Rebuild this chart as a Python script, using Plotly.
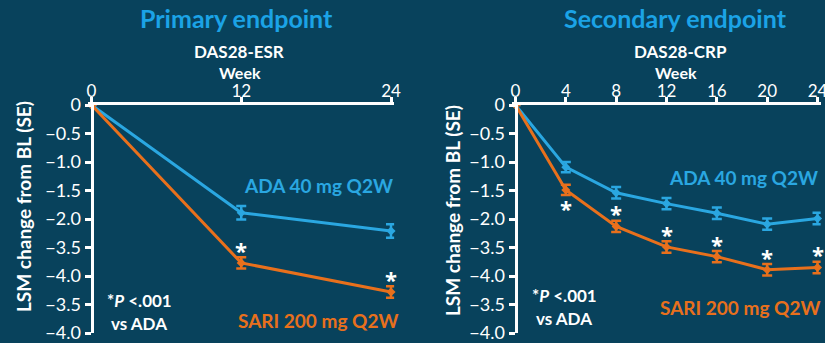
import plotly.graph_objects as go

# ---- data ----
weeks_esr = [0, 12, 24]
ada_esr = [0, -1.89, -2.21]
ada_esr_se = [0, 0.12, 0.12]
sari_esr = [0, -2.77, -3.28]
sari_esr_se = [0, 0.10, 0.10]
sig_esr = [False, True, True]

weeks_crp = [0, 4, 8, 12, 16, 20, 24]
ada_crp = [0, -1.09, -1.54, -1.73, -1.90, -2.09, -1.99]
ada_crp_se = [0, 0.09, 0.10, 0.10, 0.10, 0.10, 0.10]
sari_crp = [0, -1.49, -2.13, -2.49, -2.66, -2.89, -2.85]
sari_crp_se = [0, 0.09, 0.10, 0.10, 0.10, 0.10, 0.10]
sig_crp = [False, True, True, True, True, True, True]
star_below_crp = [False, True, False, False, False, False, False]

y_tickvals = [0, -0.5, -1.0, -1.5, -2.0, -2.5, -3.0, -3.5, -4.0]
y_ticktext = ["0", "\u22120.5", "\u22121.0", "\u22121.5", "\u22122.0", "\u22123.5", "\u22124.0", "\u22123.5", "\u22124.0"]
x_ticks_esr = [0, 12, 24]
x_ticks_crp = [0, 4, 8, 12, 16, 20, 24]

BG = "#08425C"
BLUE = "#2AA7E1"
ORANGE = "#E8701C"
TITLE_BLUE = "#1BA3E6"
WHITE = "#FFFFFF"
FONT = "Lato"

fig = go.Figure()

def add_series(x, y, se, color, xa, ya):
    fig.add_trace(go.Scatter(
        x=x, y=y, mode="lines+markers", xaxis=xa, yaxis=ya,
        line=dict(color=color, width=3),
        marker=dict(symbol="diamond", size=7, color=color),
        error_y=dict(type="data", array=se, visible=True, color=color, thickness=2.5, width=5),
        showlegend=False, hoverinfo="skip", cliponaxis=False,
    ))

add_series(weeks_esr, ada_esr, ada_esr_se, BLUE, "x", "y")
add_series(weeks_esr, sari_esr, sari_esr_se, ORANGE, "x", "y")
add_series(weeks_crp, ada_crp, ada_crp_se, BLUE, "x2", "y2")
add_series(weeks_crp, sari_crp, sari_crp_se, ORANGE, "x2", "y2")

annotations = []
STAR_FONT = dict(family="Open Sans", size=22, color=WHITE)
# asterisks
for w, v, s in zip(weeks_esr, sari_esr, sig_esr):
    if s:
        annotations.append(dict(x=w, y=v, xref="x", yref="y", text="<b>*</b>", showarrow=False,
                                yshift=13, font=STAR_FONT))
for w, v, s, b in zip(weeks_crp, sari_crp, sig_crp, star_below_crp):
    if s:
        annotations.append(dict(x=w, y=v, xref="x2", yref="y2", text="<b>*</b>", showarrow=False,
                                yshift=(-18 if b else 13), font=STAR_FONT))

def paper_txt(x, y, text, size, color, bold=True, textangle=0):
    annotations.append(dict(x=x / 825, y=1 - y / 343, xref="paper", yref="paper",
                            text=("<b>%s</b>" % text) if bold else text, showarrow=False,
                            xanchor="center", yanchor="middle", textangle=textangle,
                            font=dict(family=FONT, size=size, color=color)))

paper_txt(236, 18, "Primary endpoint", 25, TITLE_BLUE)
paper_txt(675, 18, "Secondary endpoint", 25, TITLE_BLUE)
paper_txt(239, 51, "DAS28-ESR", 17, WHITE)
paper_txt(680, 51, "DAS28-CRP", 17, WHITE)
paper_txt(240, 72, "Week", 16, WHITE)
paper_txt(676, 72, "Week", 16, WHITE)
paper_txt(318, 185, "ADA 40 mg Q2W", 19, BLUE)
paper_txt(318, 320, "SARI 200 mg Q2W", 19, ORANGE)
paper_txt(743, 177, "ADA 40 mg Q2W", 19, BLUE)
paper_txt(740, 307, "SARI 200 mg Q2W", 19, ORANGE)
paper_txt(139, 300, "*<i>P</i> <.001", 17, WHITE)
paper_txt(139, 323, "vs ADA", 17, WHITE)
paper_txt(564, 295, "*<i>P</i> <.001", 17, WHITE)
paper_txt(564, 318, "vs ADA", 17, WHITE)
paper_txt(23, 207, "LSM change from BL (SE)", 19, WHITE, textangle=-90)
paper_txt(452, 211, "LSM change from BL (SE)", 19, WHITE, textangle=-90)

PAD = 0.25  # small range padding so end error-bar caps are not clipped
xcommon = dict(side="top", showgrid=False, zeroline=False, showline=True, linecolor=WHITE,
               linewidth=3, ticks="outside", ticklen=5, tickwidth=3, tickcolor=WHITE,
               tickfont=dict(family=FONT, size=17, color=WHITE), range=[-PAD, 24 + PAD],
               fixedrange=True, automargin=False, ticklabelstandoff=-7,
               ticklabeloverflow="allow")
ycommon = dict(showgrid=False, zeroline=False, showline=True, linecolor=WHITE, linewidth=3,
               ticks="outside", ticklen=6, tickwidth=3, tickcolor=WHITE,
               tickvals=y_tickvals, ticktext=y_ticktext, range=[-4.0, 0],
               tickfont=dict(family=FONT, size=18, color=WHITE), fixedrange=True,
               automargin=False, ticklabeloverflow="allow")

def xdom(x0px, x24px):
    ppu = (x24px - x0px) / 24.0
    return [(x0px - PAD * ppu) / 825, (x24px + PAD * ppu) / 825]

ydom = [1 - 333 / 343, 1 - 105 / 343]
fig.update_layout(
    width=825, height=343,
    margin=dict(l=0, r=0, t=0, b=0),
    paper_bgcolor=BG, plot_bgcolor=BG,
    xaxis=dict(xcommon, domain=xdom(91.5, 391), anchor="y", tickvals=x_ticks_esr),
    yaxis=dict(ycommon, domain=ydom, anchor="free", position=91.5 / 825),
    xaxis2=dict(xcommon, domain=xdom(515.5, 817.5), anchor="y2", tickvals=x_ticks_crp),
    yaxis2=dict(ycommon, domain=ydom, anchor="free", position=515.5 / 825),
    annotations=annotations,
)

fig.write_html(
    "out.html",
    config={"displayModeBar": False},
    post_script="document.body.style.margin='0';document.body.style.padding='0';"
                "document.body.style.background='" + BG + "';",
)
